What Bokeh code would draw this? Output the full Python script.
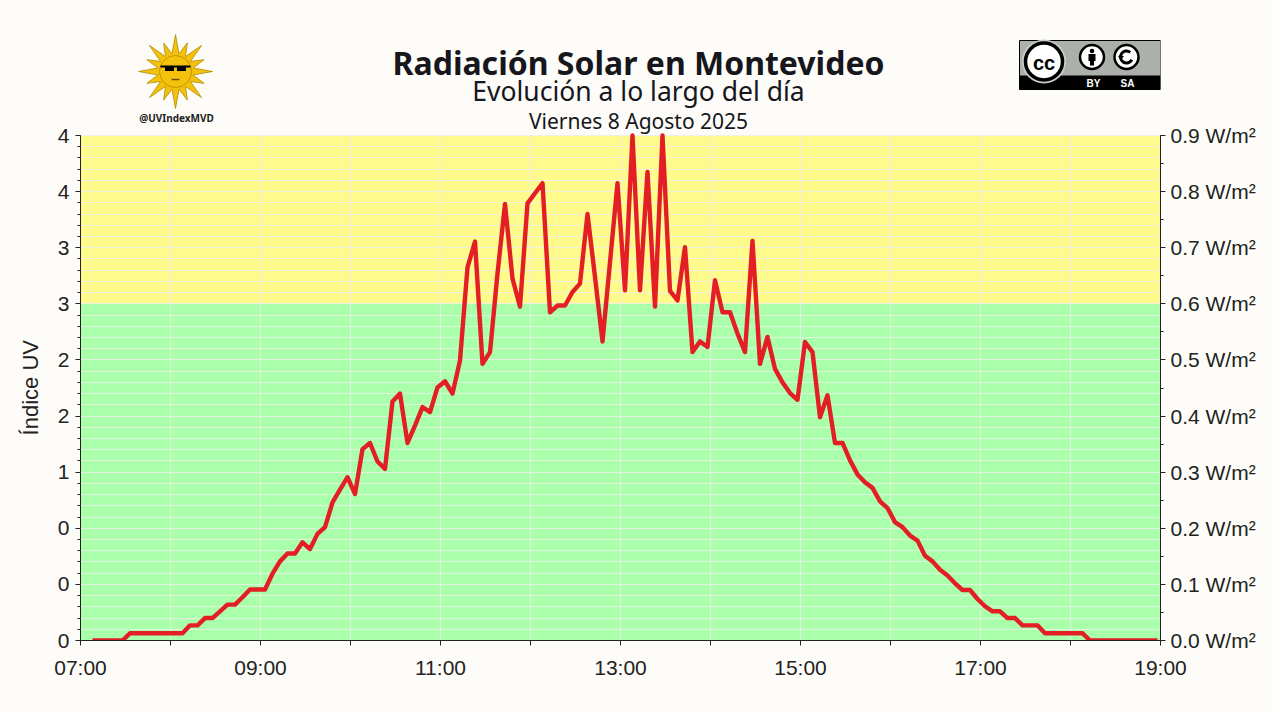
import numpy as np
from bokeh.plotting import figure
from bokeh.models import Range1d, FixedTicker, LinearAxis, BoxAnnotation
from bokeh.embed import file_html
from bokeh.resources import INLINE
from bokeh.core.properties import value

# ---------------- data ----------------
TITLE = "Radiación Solar en Montevideo"
SUBTITLE = "Evolución a lo largo del día"
DATE_TEXT = "Viernes 8 Agosto 2025"
HANDLE = "@UVIndexMVD"
Y_LABEL = "Índice UV"

first_sample = "07:08"
sample_step_minutes = 5
# solar UV radiation (W/m²), one value every 5 minutes from 07:08 to 18:58
radiation_wm2 = [
    0, 0, 0, 0, 0, 0.013, 0.013, 0.013, 0.013, 0.013, 0.013,                      # 07
    0.013, 0.013, 0.027, 0.027, 0.040, 0.040, 0.052, 0.064, 0.064, 0.077, 0.091, 0.091,  # 08
    0.091, 0.119, 0.141, 0.155, 0.155, 0.175, 0.163, 0.190, 0.202, 0.246, 0.269, 0.291,  # 09
    0.261, 0.341, 0.352, 0.319, 0.306, 0.426, 0.440, 0.352, 0.383, 0.416, 0.407, 0.451,  # 10
    0.462, 0.440, 0.499, 0.665, 0.711, 0.493, 0.514, 0.654, 0.778, 0.645, 0.595, 0.779,  # 11
    0.797, 0.815, 0.585, 0.597, 0.597, 0.621, 0.636, 0.760, 0.648, 0.533, 0.674, 0.815,  # 12
    0.624, 0.900, 0.624, 0.835, 0.595, 0.900, 0.623, 0.606, 0.701, 0.514, 0.533, 0.523,  # 13
    0.642, 0.585, 0.585, 0.547, 0.514, 0.712, 0.493, 0.541, 0.484, 0.460, 0.441, 0.429,  # 14
    0.532, 0.514, 0.398, 0.437, 0.352, 0.352, 0.321, 0.296, 0.282, 0.272, 0.248, 0.236,  # 15
    0.211, 0.202, 0.187, 0.178, 0.151, 0.141, 0.126, 0.116, 0.102, 0.090, 0.090, 0.074,  # 16
    0.061, 0.052, 0.052, 0.040, 0.040, 0.027, 0.027, 0.027, 0.013, 0.013, 0.013, 0.013,  # 17
    0.013, 0.013, 0, 0, 0, 0, 0, 0, 0, 0, 0, 0,                                    # 18
]

x_ticks_hours = [7, 8, 9, 10, 11, 12, 13, 14, 15, 16, 17, 18, 19]
x_tick_labels = ["07:00", "", "09:00", "", "11:00", "", "13:00", "", "15:00", "", "17:00", "", "19:00"]
wm2_ticks = [0.0, 0.1, 0.2, 0.3, 0.4, 0.5, 0.6, 0.7, 0.8, 0.9]
wm2_tick_labels = ["0.0 W/m²", "0.1 W/m²", "0.2 W/m²", "0.3 W/m²", "0.4 W/m²",
                   "0.5 W/m²", "0.6 W/m²", "0.7 W/m²", "0.8 W/m²", "0.9 W/m²"]
uv_tick_labels = ["0", "0", "0", "1", "2", "2", "3", "3", "4", "4"]
moderate_threshold = 0.6
x_min, x_max = 7, 19
y_max = 0.9

# ---------------- style / layout ----------------
BG = "#fdfcf8"
GREEN = "#aaffaa"
YELLOW = "#fffa8c"
RED = "#e31e24"
INK = "#222222"
TITLE_INK = "#16161c"
TICK_FONT = "Liberation Sans"
TITLE_FONT = "Noto Sans"

PAGE_W, PAGE_H = 1272, 712
FRAME_L, FRAME_R = 80, 1160      # page px of the chart's plotting area
CHART_T, FRAME_B = 135, 640      # top of the 0.9 W/m² level, bottom of plot

h0, m0 = (int(s) for s in first_sample.split(":"))
hours = [h0 + (m0 + sample_step_minutes * i) / 60.0 for i in range(len(radiation_wm2))]

fine_steps = [round(k * 0.02, 2) for k in range(int(round(y_max / 0.02)) + 1)]
half_steps = [round(k * 0.05, 2) for k in range(int(round(y_max / 0.05)) + 1)]

# the frame spans the full height above the chart, so the header lives inside it
px_per_unit = (FRAME_B - CHART_T) / y_max
y_top = FRAME_B / px_per_unit

p = figure(width=PAGE_W, height=PAGE_H, x_range=Range1d(x_min, x_max), y_range=Range1d(0, y_top),
           toolbar_location=None, output_backend="svg",
           min_border_left=FRAME_L, min_border_right=PAGE_W - FRAME_R,
           min_border_top=0, min_border_bottom=PAGE_H - FRAME_B,
           background_fill_color=BG, border_fill_color=BG, outline_line_color=None)
# pixel ranges for the header decorations
p.extra_x_ranges = {"px": Range1d(FRAME_L, FRAME_R)}
p.extra_y_ranges = {"px": Range1d(FRAME_B, 0)}
PX = dict(x_range_name="px", y_range_name="px")

p.add_layout(BoxAnnotation(bottom=0, top=moderate_threshold, fill_color=GREEN, fill_alpha=1,
                           line_color=None, level="image"))
p.add_layout(BoxAnnotation(bottom=moderate_threshold, top=y_max, fill_color=YELLOW, fill_alpha=1,
                           line_color=None, level="image"))

p.xgrid.ticker = FixedTicker(ticks=x_ticks_hours)
p.ygrid.ticker = FixedTicker(ticks=fine_steps)
p.xgrid.cross_bounds = (0, y_max)
p.ygrid.bounds = (0, y_max)
for g in (p.xgrid[0], p.ygrid[0]):
    g.grid_line_color = "#eeeeee"
    g.grid_line_alpha = 0.8
    g.grid_line_width = 1

p.line(hours, radiation_wm2, line_color=RED, line_width=4.4, line_join="round")

# ---------------- header ----------------
cx = 638
p.text(x=[cx], y=[62], text=[TITLE], text_font=value(TITLE_FONT), text_font_style="bold",
       text_font_size="32px", text_align="center", text_baseline="alphabetic", text_color=TITLE_INK, **PX)
p.text(x=[cx], y=[90], text=[SUBTITLE], text_font=value(TITLE_FONT),
       text_font_size="26.5px", text_align="center", text_baseline="alphabetic", text_color=TITLE_INK, **PX)
p.text(x=[cx], y=[120], text=[DATE_TEXT], text_font=value(TITLE_FONT),
       text_font_size="21px", text_align="center", text_baseline="alphabetic", text_color=TITLE_INK, **PX)

# sun logo
scx, scy = 175, 71
n_pts = 32
ang = np.linspace(0, 2 * np.pi, n_pts, endpoint=False) - np.pi / 2
rr = np.where(np.arange(n_pts) % 2 == 0, 37.0, 18.0)
rr[2::4] = 31.0
p.patch(scx + rr * np.cos(ang), scy + rr * np.sin(ang), fill_color="#f4c20d",
        line_color="#b08a00", line_width=0.8, **PX)
p.circle(x=[scx], y=[scy], radius=16, fill_color="#f4c20d", line_color="#b08a00", line_width=0.8, **PX)
p.segment(x0=[scx - 15], y0=[scy - 5], x1=[scx + 15], y1=[scy - 5], line_color="black", line_width=2, **PX)
p.rect(x=[scx - 6, scx + 6], y=[scy - 3, scy - 3], width=9, height=5, fill_color="black", line_color=None, **PX)
p.segment(x0=[scx - 4], y0=[scy + 8], x1=[scx + 4], y1=[scy + 8], line_color="#6b4f00", line_width=1.5, **PX)
p.text(x=[scx + 1], y=[117], text=[HANDLE], text_font=value(TITLE_FONT), text_font_style="bold",
       text_font_size="10px", text_align="center", text_baseline="middle", text_color=INK, **PX)

# CC BY-SA badge
bl, br, bt, bb = 1019, 1160, 40, 89
p.quad(left=[bl], right=[br], top=[bt], bottom=[bb], fill_color="#abb1aa", line_color="black",
       line_width=1, **PX)
p.quad(left=[bl], right=[br], top=[bb - 14], bottom=[bb], fill_color="black", line_color=None, **PX)
ccx, ccy = 1043.5, 61
p.circle(x=[ccx], y=[ccy], radius=22, fill_color="#c9cdc9", line_color=None, **PX)
p.circle(x=[ccx], y=[ccy], radius=18.5, fill_color="white", line_color="black", line_width=3.5, **PX)
p.text(x=[ccx], y=[ccy + 1], text=["cc"], text_font=value("Liberation Sans"), text_font_style="bold",
       text_font_size="20px", text_align="center", text_baseline="middle", text_color="black", **PX)
byx, sax, icy = 1091.5, 1126, 56.5
p.circle(x=[byx, sax], y=[icy, icy], radius=12, fill_color="white", line_color="black", line_width=2.5, **PX)
p.circle(x=[byx], y=[icy - 6], radius=2.3, fill_color="black", line_color=None, **PX)
p.quad(left=[byx - 3.5], right=[byx + 3.5], top=[icy - 3], bottom=[icy + 4], fill_color="black",
       line_color=None, **PX)
p.quad(left=[byx - 2], right=[byx + 2], top=[icy + 4], bottom=[icy + 8.5], fill_color="black",
       line_color=None, **PX)
p.arc(x=[sax], y=[icy], radius=6, start_angle=0.9, end_angle=5.8, line_color="black", line_width=3, **PX)
p.patch([sax - 8.5, sax - 2.5, sax - 5.5], [icy - 1, icy - 1, icy + 3], fill_color="black",
        line_color=None, **PX)
p.text(x=[byx + 1.5, sax + 1], y=[bb - 6.5, bb - 6.5], text=["BY", "SA"], text_font=value("Liberation Sans"),
       text_font_style="bold", text_font_size="10px", text_align="center", text_baseline="middle",
       text_color="white", **PX)


# ---------------- axes ----------------
def style_axis(ax, major_out, minor_out):
    ax.axis_line_color = INK
    ax.major_tick_line_color = INK
    ax.minor_tick_line_color = INK
    ax.major_tick_in = 0
    ax.minor_tick_in = 0
    ax.major_tick_out = major_out
    ax.minor_tick_out = minor_out
    ax.major_label_text_font = TICK_FONT
    ax.major_label_text_font_size = "21px"
    ax.major_label_text_color = INK


xa = p.xaxis[0]
xa.ticker = FixedTicker(ticks=x_ticks_hours, minor_ticks=[])
xa.major_label_overrides = dict(zip(x_ticks_hours, x_tick_labels))
style_axis(xa, 5, 0)
xa.major_label_standoff = 10

# the axis label is centred on the whole frame; pad it with no-break spaces so the
# visible words sit centred on the chart part (0 .. 0.9) instead
label_px = 22
shift_px = (FRAME_B + CHART_T) / 2 - FRAME_B / 2
n_pad = int(round(2 * shift_px / (0.278 * label_px)))

ya = p.yaxis[0]
ya.ticker = FixedTicker(ticks=wm2_ticks, minor_ticks=fine_steps)
ya.major_label_overrides = dict(zip(wm2_ticks, uv_tick_labels))
ya.bounds = (0, y_max)
style_axis(ya, 5, 3)
ya.major_label_standoff = 6
ya.axis_label = Y_LABEL + "\u00a0" * n_pad
ya.axis_label_text_font = TICK_FONT
ya.axis_label_text_font_size = "%dpx" % label_px
ya.axis_label_text_font_style = "normal"
ya.axis_label_text_color = INK
ya.axis_label_standoff = 12

ra = LinearAxis(ticker=FixedTicker(ticks=wm2_ticks, minor_ticks=half_steps),
                major_label_overrides=dict(zip(wm2_ticks, wm2_tick_labels)), bounds=(0, y_max))
style_axis(ra, 5, 3)
ra.major_label_standoff = 5
p.add_layout(ra, "right")

html = file_html(p, INLINE, title="Radiación Solar en Montevideo")
html = html.replace("<body>", '<body style="background-color:%s;">' % BG, 1)
open("out.html", "w").write(html)
